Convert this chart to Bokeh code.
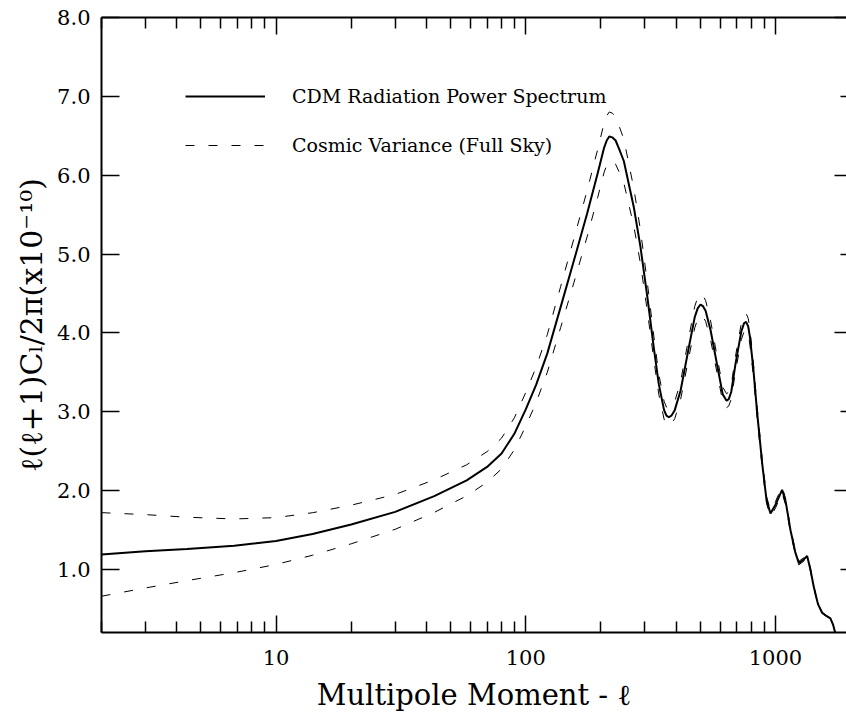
from bokeh.plotting import figure
from bokeh.models import (Range1d, FixedTicker, LogAxis, LinearAxis,
                          PrintfTickFormatter, Legend, LegendItem)
from bokeh.embed import file_html
from bokeh.resources import INLINE

# multipole moment samples
ell = [2, 3, 4.4, 6.8, 10, 14, 20, 30, 43, 58, 70, 80, 90, 100, 110, 122, 138,
       156, 176, 194, 206, 211, 216, 222, 229, 236, 247, 271, 288, 307, 326,
       341, 358, 366, 374, 383, 395, 417, 450, 475, 488, 501, 512, 525, 550,
       593, 615, 637, 650, 665, 692, 730, 748, 763, 778, 790, 815, 845, 885,
       921, 955, 1000, 1063, 1100, 1148, 1200, 1240, 1290, 1339, 1380, 1423,
       1480, 1537, 1600, 1660, 1700, 1740]

# CDM radiation power spectrum  l(l+1)C_l/2pi  (x1e-10)
cdm = [1.19, 1.23, 1.26, 1.30, 1.36, 1.45, 1.57, 1.73, 1.93, 2.13, 2.30, 2.47,
       2.72, 3.03, 3.34, 3.74, 4.33, 4.92, 5.51, 6.02, 6.35, 6.44, 6.49, 6.48,
       6.44, 6.34, 6.18, 5.59, 5.09, 4.45, 3.80, 3.35, 3.02, 2.95, 2.93, 2.95,
       3.02, 3.27, 3.82, 4.20, 4.31, 4.36, 4.34, 4.28, 4.03, 3.48, 3.22, 3.14,
       3.16, 3.25, 3.61, 4.02, 4.12, 4.14, 4.08, 3.95, 3.55, 2.98, 2.34, 1.88,
       1.71, 1.82, 2.01, 1.85, 1.50, 1.22, 1.08, 1.12, 1.17, 1.00, 0.78, 0.56,
       0.45, 0.41, 0.38, 0.30, 0.18]

# cosmic variance envelope (full sky)
cv_upper = [1.72, 1.695, 1.662, 1.640, 1.657, 1.719, 1.815, 1.951, 2.137, 2.327,
            2.494, 2.665, 2.922, 3.244, 3.565, 3.979, 4.590, 5.198, 5.803, 6.325,
            6.662, 6.753, 6.802, 6.787, 6.741, 6.632, 6.457, 5.830, 5.302, 4.629,
            3.949, 3.478, 3.133, 3.059, 3.037, 3.056, 3.128, 3.383, 3.947, 4.336,
            4.448, 4.498, 4.475, 4.412, 4.151, 3.581, 3.312, 3.228, 3.248, 3.339,
            3.707, 4.125, 4.226, 4.246, 4.183, 4.049, 3.638, 3.052, 2.396, 1.924,
            1.749, 1.861, 2.054, 1.889, 1.531, 1.245, 1.102, 1.142, 1.193, 1.019,
            0.795, 0.570, 0.458, 0.417, 0.387, 0.305, 0.183]
cv_lower = [0.66, 0.765, 0.858, 0.959, 1.063, 1.180, 1.325, 1.509, 1.723, 1.933,
            2.106, 2.275, 2.518, 2.816, 3.115, 3.501, 4.070, 4.642, 5.217, 5.715,
            6.038, 6.127, 6.178, 6.173, 6.139, 6.048, 5.903, 5.350, 4.878, 4.271,
            3.651, 3.222, 2.907, 2.841, 2.823, 2.844, 2.912, 3.157, 3.693, 4.064,
            4.172, 4.222, 4.205, 4.148, 3.909, 3.379, 3.128, 3.052, 3.072, 3.161,
            3.513, 3.915, 4.014, 4.034, 3.977, 3.851, 3.462, 2.908, 2.284, 1.836,
            1.671, 1.779, 1.966, 1.811, 1.469, 1.195, 1.058, 1.098, 1.147, 0.981,
            0.765, 0.550, 0.442, 0.403, 0.373, 0.295, 0.177]

x_major = [10, 100, 1000]
x_minor = [2, 3, 4, 5, 6, 7, 8, 9, 20, 30, 40, 50, 60, 70, 80, 90,
           200, 300, 400, 500, 600, 700, 800, 900]
y_major = [1, 2, 3, 4, 5, 6, 7, 8]
legend_labels = ["CDM Radiation Power Spectrum", "Cosmic Variance (Full Sky)"]

FONT = "DejaVu Serif"

p = figure(width=846, height=717, x_axis_type="log",
           x_range=Range1d(2, 1925), y_range=Range1d(0.2, 8.0),
           output_backend="svg", toolbar_location=None,
           min_border_left=101, min_border_top=17, min_border_right=0,
           min_border_bottom=85)
p.outline_line_color = None
p.xgrid.visible = False
p.ygrid.visible = False
p.background_fill_color = "white"
p.border_fill_color = "white"

r_cdm = p.line(ell, cdm, line_color="black", line_width=2)
r_up = p.line(ell, cv_upper, line_color="black", line_width=1, line_dash="9 14")
r_lo = p.line(ell, cv_lower, line_color="black", line_width=1, line_dash="9 14")

# bottom axis
xa = p.xaxis[0]
xa.ticker = FixedTicker(ticks=x_major, minor_ticks=x_minor)
xa.formatter = PrintfTickFormatter(format="%d")
xa.major_tick_in = 17
xa.major_tick_out = 0
xa.minor_tick_in = 11
xa.minor_tick_out = 0
xa.axis_line_width = 2
xa.major_tick_line_width = 1.5
xa.minor_tick_line_width = 1.5
xa.major_label_text_font = FONT
xa.major_label_text_font_size = "21px"
xa.major_label_text_color = "black"
xa.major_label_standoff = 17
xa.axis_label = "Multipole Moment - \u2113"
xa.axis_label_text_font = FONT
xa.axis_label_text_font_size = "29px"
xa.axis_label_text_font_style = "normal"
xa.axis_label_text_color = "black"
xa.axis_label_standoff = 10

# left axis
ya = p.yaxis[0]
ya.ticker = FixedTicker(ticks=y_major)
ya.formatter = PrintfTickFormatter(format="%.1f")
ya.major_tick_in = 18
ya.major_tick_out = 0
ya.minor_tick_line_color = None
ya.axis_line_width = 2
ya.major_tick_line_width = 1.5
ya.major_label_text_font = FONT
ya.major_label_text_font_size = "21px"
ya.major_label_text_color = "black"
ya.major_label_standoff = 11
ya.axis_label = "\u2113(\u2113+1)C\u2097/2\u03c0(x10\u207b\u00b9\u2070)"
ya.axis_label_text_font = FONT
ya.axis_label_text_font_size = "30px"
ya.axis_label_text_font_style = "normal"
ya.axis_label_text_color = "black"
ya.axis_label_standoff = 5

# top axis (ticks only)
top = LogAxis(ticker=FixedTicker(ticks=x_major, minor_ticks=x_minor),
              major_tick_in=17, major_tick_out=0, minor_tick_in=11,
              minor_tick_out=0, axis_line_width=2, major_tick_line_width=1.5,
              minor_tick_line_width=1.5, major_label_text_font_size="1px",
              major_label_text_color=None, major_label_standoff=0)
p.add_layout(top, "above")

# right axis (ticks only)
right = LinearAxis(ticker=FixedTicker(ticks=[2, 4, 6, 8], minor_ticks=[1, 3, 5, 7]),
                   major_tick_in=12, major_tick_out=0, minor_tick_in=6,
                   minor_tick_out=0, axis_line_color=None,
                   major_tick_line_width=1.5, minor_tick_line_width=1.5,
                   major_label_text_font_size="1px", major_label_text_color=None,
                   major_label_standoff=0)
p.add_layout(right, "right")

legend = Legend(items=[LegendItem(label=legend_labels[0], renderers=[r_cdm]),
                       LegendItem(label=legend_labels[1], renderers=[r_up])],
                location=(84, 472), glyph_width=80, glyph_height=30,
                label_height=30, label_standoff=27, spacing=19, padding=0,
                margin=0, border_line_color=None, background_fill_alpha=0,
                label_text_font=FONT, label_text_font_size="19px",
                label_text_color="black")
p.add_layout(legend)

open("out.html", "w").write(file_html(p, INLINE))
